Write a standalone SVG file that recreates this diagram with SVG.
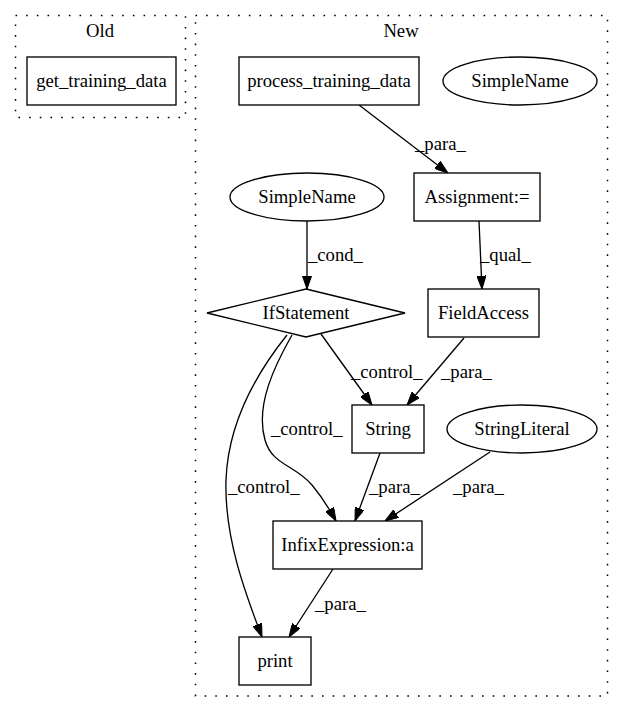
<svg xmlns="http://www.w3.org/2000/svg" width="624" height="712" viewBox="0 0 624 712" font-family="'Liberation Serif', 'Times New Roman', Times, 'DejaVu Serif', serif">
<style>
text{font-family:'Liberation Serif','Times New Roman',Times,'DejaVu Serif',serif;font-size:18.67px;fill:#000}
.n{text-anchor:middle}
.cl{fill:none;stroke:#000;stroke-width:1.5;stroke-dasharray:1.6,9.07}
.s{fill:#fff;stroke:#000;stroke-width:1.33}
.e{fill:none;stroke:#000;stroke-width:1.33;marker-end:url(#ah)}
</style>
<defs>
<marker id="ah" viewBox="0 0 13.33 9.33" refX="13.33" refY="4.67" markerWidth="13.33" markerHeight="9.33" markerUnits="userSpaceOnUse" orient="auto">
<path d="M0,0 L13.33,4.67 L0,9.33 z" fill="#000" stroke="#000" stroke-width="1"/>
</marker>
</defs>
<rect width="624" height="712" fill="#fff"/>
<g id="cluster_old">
<rect class="cl" x="15.5" y="15.5" width="170" height="102"/>
<text class="n" x="100" y="37">Old</text>
</g>
<g id="cluster_new">
<rect class="cl" x="195.5" y="15.5" width="412" height="680.5"/>
<text class="n" x="401" y="37">New</text>
</g>
<g id="connectors">
<path class="e" d="M359,105 L448,173"/>
<text x="415" y="150">_para_</text>
<path class="e" d="M307,221 L307,289"/>
<text x="308" y="261">_cond_</text>
<path class="e" d="M479,221 L482,289"/>
<text x="480" y="261">_qual_</text>
<path class="e" d="M321,334 L372,405"/>
<text x="351" y="378">_control_</text>
<path class="e" d="M464,338 L407,405"/>
<text x="441" y="378">_para_</text>
<path class="e" d="M292,335 C275,365 255,405 265,440 C272,465 295,465 312,485 C322,497 330,510 336,521"/>
<text x="271" y="435">_control_</text>
<path class="e" d="M287,335 C255,375 228,425 226,480 C224,540 248,600 262,637"/>
<text x="228" y="493">_control_</text>
<path class="e" d="M380,453 L355,521"/>
<text x="369" y="493">_para_</text>
<path class="e" d="M490,452 L385,521"/>
<text x="453" y="493">_para_</text>
<path class="e" d="M333,569 L289,637"/>
<text x="315" y="610">_para_</text>
</g>
<g id="get_training_data">
<rect class="s" x="27" y="57" width="149" height="48"/>
<text class="n" x="101.5" y="87">get_training_data</text>
</g>
<g id="process_training_data">
<rect class="s" x="239" y="57" width="180" height="48"/>
<text class="n" x="329" y="87">process_training_data</text>
</g>
<g id="simplename_top">
<ellipse class="s" cx="520" cy="81" rx="77" ry="24"/>
<text class="n" x="520" y="87">SimpleName</text>
</g>
<g id="simplename_left">
<ellipse class="s" cx="307" cy="197" rx="77" ry="24"/>
<text class="n" x="307" y="203">SimpleName</text>
</g>
<g id="assignment">
<rect class="s" x="414" y="173" width="126" height="48"/>
<text class="n" x="477" y="203">Assignment:=</text>
</g>
<g id="ifstatement">
<polygon class="s" points="306,289 405,313 306,337 207,313"/>
<text class="n" x="306" y="319">IfStatement</text>
</g>
<g id="fieldaccess">
<rect class="s" x="428" y="289" width="111" height="48"/>
<text class="n" x="483.5" y="319">FieldAccess</text>
</g>
<g id="string">
<rect class="s" x="352" y="405" width="72" height="48"/>
<text class="n" x="388" y="435">String</text>
</g>
<g id="stringliteral">
<ellipse class="s" cx="522" cy="429" rx="75" ry="24"/>
<text class="n" x="522" y="435">StringLiteral</text>
</g>
<g id="infixexpression">
<rect class="s" x="273" y="521" width="149" height="48"/>
<text class="n" x="347.5" y="551">InfixExpression:a</text>
</g>
<g id="print">
<rect class="s" x="239" y="637" width="72" height="48"/>
<text class="n" x="275" y="667">print</text>
</g>
</svg>
